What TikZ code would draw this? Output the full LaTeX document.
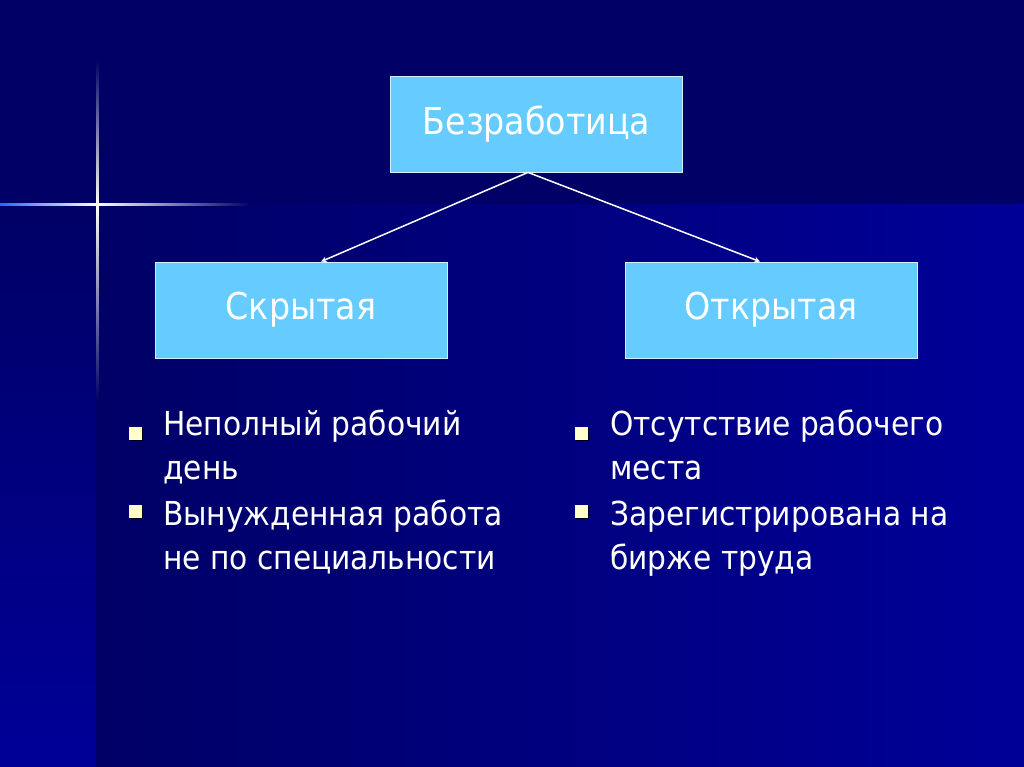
\documentclass[tikz,border=0pt]{standalone}
\usepackage{fontspec}
\setmainfont{DejaVu Sans Condensed}
\usetikzlibrary{arrows}
\definecolor{navy}{RGB}{0,0,102}
\definecolor{deepblue}{RGB}{0,0,152}
\definecolor{flareblue}{RGB}{40,100,255}
\definecolor{boxblue}{RGB}{102,204,255}
\definecolor{bulletcream}{RGB}{255,255,204}

\tikzset{
  box/.style={draw=white!70!boxblue, line width=0.8pt, fill=boxblue, minimum width=292pt, minimum height=96pt, inner sep=0pt, text=white, font=\fontsize{37}{42}\selectfont},
  item/.style={anchor=base west, text=white, align=left, inner sep=0pt, font=\fontsize{33}{44}\selectfont},
  link/.style={draw=white, line width=1.5pt, -stealth},
}

\begin{document}
\begin{tikzpicture}[x=1pt,y=1pt]
       % background
       \fill[navy] (0,0) rectangle (1024,767);
       \shade[top color=navy, bottom color=deepblue] (0,0) rectangle (96,562);
       \shade[left color=navy, right color=deepblue] (96,0) rectangle (1024,562);
       \useasboundingbox (0,0) rectangle (1024,767);

       % flare
       \shade[top color=navy, middle color=flareblue, bottom color=white] (96,562) rectangle (98.5,707);
       \shade[top color=white, middle color=flareblue, bottom color=navy] (96,367) rectangle (98.5,562);
       \shade[left color=flareblue, right color=white] (0,561) rectangle (97,563.5);
       \shade[left color=white, middle color=flareblue, right color=navy] (97,561) rectangle (250,563.5);

       % boxes
       \node[box] (unemp) at (536.5, 643) {Безработица};
       \node[box] (hidden) at (301, 457) {Скрытая};
       \node[box] (open) at (771, 457) {Открытая};

       \draw[link] ([xshift=-8.5pt]unemp.south) -- ([xshift=20pt]hidden.north);
       \draw[link] ([xshift=-8.5pt]unemp.south) -- ([xshift=-11pt]open.north);

       % bullets
       \foreach \bx/\by in {135/333, 135/255, 581/333, 581/255}{
         \fill[black!70!navy] (\bx-5, \by-7.5) rectangle (\bx+8, \by+5.5);
         \fill[bulletcream] (\bx-6.5, \by-6.5) rectangle (\bx+6.5, \by+6.5);
       }
       % last-line baselines
       \node[item] (h1) at (163, 287) {Неполный рабочий\\день};
       \node[item] (h2) at (163, 197) {Вынужденная работа\\не по специальности};
       \node[item] (o1) at (610, 287) {Отсутствие рабочего\\места};
       \node[item] (o2) at (610, 197) {Зарегистрирована на\\бирже труда};
      \end{tikzpicture}
\end{document}
